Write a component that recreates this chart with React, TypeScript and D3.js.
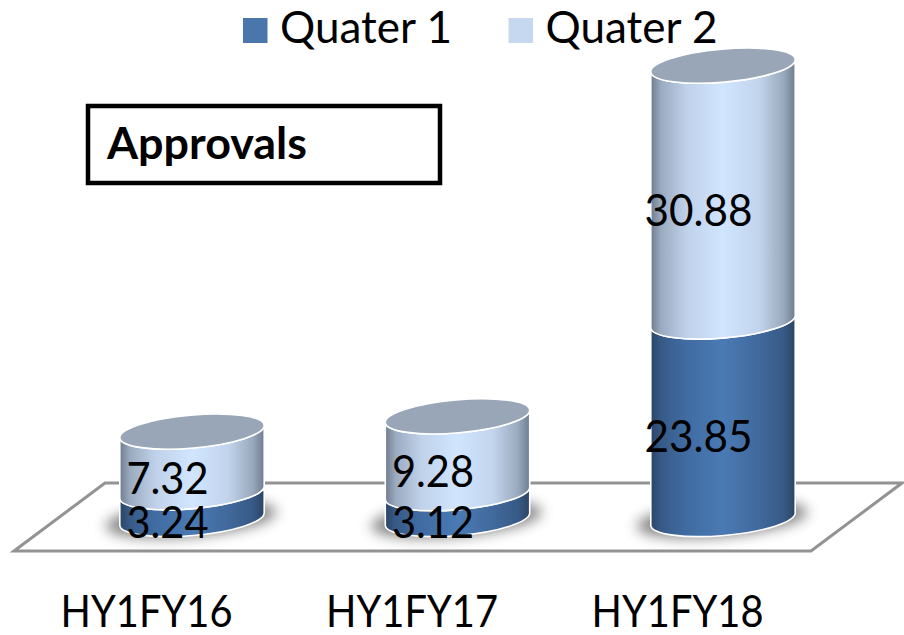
import React from "react";
import * as d3 from "d3";

const categories = ["HY1FY16", "HY1FY17", "HY1FY18"];
const quarter1 = [3.24, 3.12, 23.85];
const quarter2 = [7.32, 9.28, 30.88];
const seriesNames = ["Quater 1", "Quater 2"];
const valueText1 = ["3.24", "3.12", "23.85"];
const valueText2 = ["7.32", "9.28", "30.88"];
const boxTitle = "Approvals";

const W = 904;
const H = 635;
const FONT = "Lato, 'Open Sans', sans-serif";

const x = d3.scaleBand<string>().domain(categories).range([59.25, 855.75]).paddingInner(0.454).paddingOuter(0.227);
const y = d3.scaleLinear().domain([0, 60]).range([519, 22]);

const TILT = 5;
const tiltRad = (TILT * Math.PI) / 180;
const RY = 16.5;

function cylBody(cx: number, rx: number, yBottom: number, yTop: number) {
  const dx = rx * Math.cos(tiltRad);
  const dy = rx * Math.sin(tiltRad);
  return [
    `M${cx - dx},${yTop + dy}`,
    `L${cx - dx},${yBottom + dy}`,
    `A${rx},${RY} ${-TILT} 0 0 ${cx + dx},${yBottom - dy}`,
    `L${cx + dx},${yTop - dy}`,
    `A${rx},${RY} ${-TILT} 0 1 ${cx - dx},${yTop + dy}`,
    "Z",
  ].join(" ");
}

const q1Stops: [string, string][] = [
  ["0%", "#2b4464"], ["7%", "#375a86"], ["22%", "#3f6a9f"], ["50%", "#4a7ab4"], ["75%", "#41699c"], ["92%", "#375a86"], ["100%", "#2b4464"],
];
const q2Stops: [string, string][] = [
  ["0%", "#6e7c8e"], ["7%", "#9aaabf"], ["25%", "#c0d2ea"], ["50%", "#d1e5ff"], ["75%", "#c2d4ec"], ["92%", "#99a9bd"], ["100%", "#6e7c8e"],
];

function Grad({ id, stops }: { id: string; stops: [string, string][] }) {
  return (
    <linearGradient id={id} x1="0" x2="1" y1="0" y2="0">
      {stops.map(([o, c]) => <stop key={o} offset={o} stopColor={c} />)}
    </linearGradient>
  );
}

export default function App() {
  const bw = x.bandwidth();
  const rx = bw / 2;
  return (
    <svg width={W} height={H} viewBox={`0 0 ${W} ${H}`} style={{ position: "absolute", left: 0, top: 0, display: "block", background: "#fff" }}>
      <defs>
        <Grad id="q1" stops={q1Stops} />
        <Grad id="q2" stops={q2Stops} />
        <filter id="blur" x="-30%" y="-80%" width="160%" height="260%">
          <feGaussianBlur stdDeviation="6.5" />
        </filter>
      </defs>

      <polygon points="14,551 105,483 902,483 811,551" fill="#fff" stroke="#939393" strokeWidth={3} />

      {categories.map((c) => {
        const cx = (x(c) as number) + rx;
        return (
          <ellipse key={c} cx={cx - 1} cy={y(0)} rx={rx + 13} ry={RY + 1} fill="#555" opacity={0.72} filter="url(#blur)"
            transform={`rotate(${-TILT} ${cx} ${y(0)})`} />
        );
      })}

      {categories.map((c, i) => {
        const cx = (x(c) as number) + rx;
        const y0 = y(0);
        const y1 = y(quarter1[i]);
        const y2 = y(quarter1[i] + quarter2[i]);
        return (
          <g key={c} stroke="#fff" strokeWidth={1.6} strokeLinejoin="round">
            <path d={cylBody(cx, rx, y0, y1)} fill="url(#q1)" />
            <path d={cylBody(cx, rx, y1, y2)} fill="url(#q2)" />
            <ellipse cx={cx} cy={y2} rx={rx} ry={RY} fill="#98a6b8" transform={`rotate(${-TILT} ${cx} ${y2})`} />
          </g>
        );
      })}

      <g fontFamily={FONT} fill="#000" fontSize={44} textAnchor="middle">
        {categories.map((c, i) => {
          const cx = (x(c) as number) + rx - 24.5;
          const y0 = y(0);
          const y1 = y(quarter1[i]);
          const y2 = y(quarter1[i] + quarter2[i]);
          const len = valueText1[i].length > 4 ? 108 : 82;
          return (
            <g key={c}>
              <text x={cx} y={(y0 + y1) / 2 + 32} textLength={len} lengthAdjust="spacingAndGlyphs">{valueText1[i]}</text>
              <text x={cx} y={(y1 + y2) / 2 + 32} textLength={len} lengthAdjust="spacingAndGlyphs">{valueText2[i]}</text>
            </g>
          );
        })}
        {categories.map((c) => (
          <text key={c} x={(x(c) as number) + rx - 45.5} y={627} textLength={172} lengthAdjust="spacingAndGlyphs">{c}</text>
        ))}
      </g>

      <g fontFamily={FONT} fontSize={44} fill="#000">
        {seriesNames.map((s, i) => {
          const lx = 243 + i * 265.5;
          return (
            <g key={s}>
              <rect x={lx} y={18} width={24.5} height={25} fill={i === 0 ? "#4a76ac" : "#c6d7f0"} />
              <text x={lx + 37} y={43} textLength={172} lengthAdjust="spacingAndGlyphs">{s}</text>
            </g>
          );
        })}
      </g>

      <rect x={88} y={106} width={352} height={77} fill="#fff" stroke="#000" strokeWidth={4.5} />
      <text x={107} y={159} fontFamily={FONT} fontSize={43} fontWeight={700} fill="#000" textLength={200} lengthAdjust="spacingAndGlyphs">{boxTitle}</text>
    </svg>
  );
}
